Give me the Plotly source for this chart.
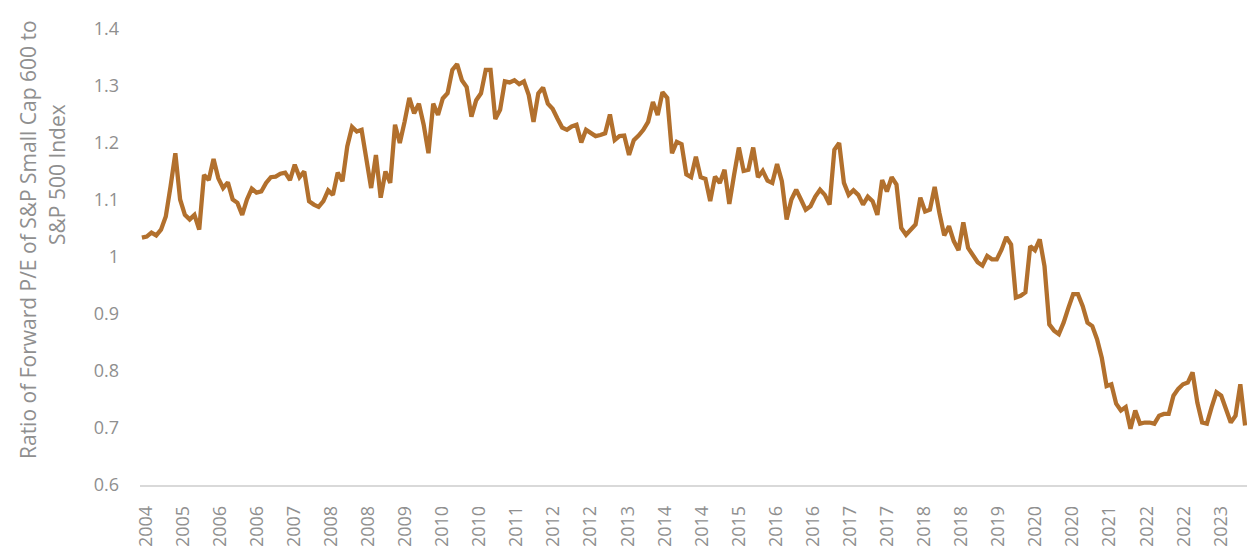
import numpy as np
import plotly.graph_objects as go

# Ratio of forward P/E (S&P 600 / S&P 500), in time order
ratio = [
    1.033, 1.035, 1.042, 1.037, 1.047, 1.070, 1.123, 1.181, 1.100, 1.073,
    1.065, 1.073, 1.047, 1.143, 1.134, 1.171, 1.137, 1.120, 1.130, 1.100,
    1.094, 1.073, 1.100, 1.119, 1.112, 1.114, 1.129, 1.139, 1.140, 1.145,
    1.147, 1.134, 1.161, 1.139, 1.149, 1.097, 1.091, 1.087, 1.097, 1.116,
    1.108, 1.147, 1.132, 1.193, 1.227, 1.219,
    1.222, 1.172, 1.120, 1.178, 1.103, 1.149, 1.129, 1.231, 1.199, 1.236,
    1.278, 1.251, 1.268, 1.231, 1.181, 1.268, 1.248, 1.277, 1.286, 1.327,
    1.337, 1.309, 1.297, 1.245, 1.274, 1.286, 1.327, 1.327, 1.241, 1.257,
    1.307, 1.305, 1.309, 1.302, 1.307, 1.283, 1.236, 1.286, 1.296, 1.268,
    1.259, 1.242, 1.226, 1.222, 1.228, 1.231, 1.200, 1.222, 1.216,
    1.211, 1.213, 1.216, 1.249, 1.204, 1.211, 1.212, 1.178, 1.204, 1.212,
    1.222, 1.236, 1.271, 1.248, 1.288, 1.278, 1.181, 1.201, 1.197, 1.144,
    1.139, 1.175, 1.139, 1.136, 1.097, 1.140, 1.129, 1.152, 1.092, 1.143,
    1.191, 1.150, 1.152, 1.191, 1.139, 1.150, 1.133, 1.129, 1.162, 1.132,
    1.065, 1.100, 1.117, 1.100, 1.082, 1.088,
    1.105, 1.117, 1.108, 1.091, 1.187, 1.199, 1.129, 1.108, 1.116, 1.108,
    1.091, 1.105, 1.097, 1.073, 1.134, 1.114, 1.139, 1.126, 1.050, 1.038,
    1.047, 1.056, 1.103, 1.079, 1.082, 1.122, 1.076, 1.037, 1.053, 1.027,
    1.011, 1.060, 1.015, 1.002, 0.990, 0.984, 1.001, 0.995, 0.995, 1.012,
    1.034, 1.021, 0.928, 0.931, 0.937, 1.018, 1.011, 1.030,
    0.983, 0.881, 0.870, 0.864, 0.884, 0.910, 0.934, 0.934, 0.913, 0.884,
    0.878, 0.855, 0.822, 0.773, 0.776, 0.742, 0.730, 0.736, 0.698, 0.730,
    0.707, 0.709, 0.709, 0.707, 0.721, 0.724, 0.724, 0.756, 0.768, 0.776,
    0.779, 0.797, 0.744, 0.709, 0.707, 0.736, 0.762, 0.756, 0.730, 0.709,
    0.721, 0.776, 0.704,
]

year_labels = ["2004", "2005", "2006", "2006", "2007", "2008", "2008", "2009",
               "2010", "2010", "2011", "2012", "2012", "2013", "2014", "2014",
               "2015", "2016", "2016", "2017", "2017", "2018", "2018", "2019",
               "2020", "2020", "2021", "2022", "2022", "2023"]

y_ticks = [0.6, 0.7, 0.8, 0.9, 1.0, 1.1, 1.2, 1.3, 1.4]
y_tick_text = ["0.6", "0.7", "0.8", "0.9", "1", "1.1", "1.2", "1.3", "1.4"]

n = len(ratio)
x = np.arange(n)
tick_pos = np.linspace(0.8, (n - 1) * 0.978, len(year_labels))

grey = "#8f8f8f"
font_family = "Open Sans"

fig = go.Figure()
fig.add_trace(go.Scatter(
    x=x, y=ratio, mode="lines",
    line=dict(color="#B2702D", width=4.3),
    showlegend=False, hoverinfo="y",
))

fig.update_layout(
    width=1251, height=550,
    margin=dict(l=140, r=4, t=28, b=65),
    paper_bgcolor="white", plot_bgcolor="white",
    font=dict(family=font_family, color=grey, size=18),
    xaxis=dict(
        range=[-0.4, n - 1 + 0.4],
        tickmode="array", tickvals=tick_pos, ticktext=year_labels,
        tickangle=-90, showgrid=False, zeroline=False,
        showline=True, linecolor="#d9d9d9", linewidth=1.5,
        ticks="", ticklabelstandoff=12,
        tickfont=dict(size=18, color=grey, family=font_family),
        automargin=False,
    ),
    yaxis=dict(
        range=[0.5995, 1.4005],
        tickmode="array", tickvals=y_ticks, ticktext=y_tick_text,
        showgrid=False, zeroline=False, showline=False,
        ticks="", ticklabelstandoff=20,
        tickfont=dict(size=18, color=grey, family=font_family),
        automargin=False,
    ),
)

# two-line rotated axis title (positions in pixels converted to paper units)
plot_w = 1251 - 140 - 4
plot_h = 550 - 28 - 65
plot_bottom = 550 - 65
fig.add_annotation(
    text="Ratio of Forward P/E of S&P Small Cap 600 to",
    xref="paper", yref="paper",
    x=(28 - 140) / plot_w, y=(plot_bottom - 240) / plot_h,
    textangle=-90, showarrow=False, xanchor="center", yanchor="middle",
    font=dict(size=21, color=grey, family=font_family),
)
fig.add_annotation(
    text="S&P 500 Index",
    xref="paper", yref="paper",
    x=(57 - 140) / plot_w, y=(plot_bottom - 175) / plot_h,
    textangle=-90, showarrow=False, xanchor="center", yanchor="middle",
    font=dict(size=21, color=grey, family=font_family),
)

fig.write_html("out.html")
